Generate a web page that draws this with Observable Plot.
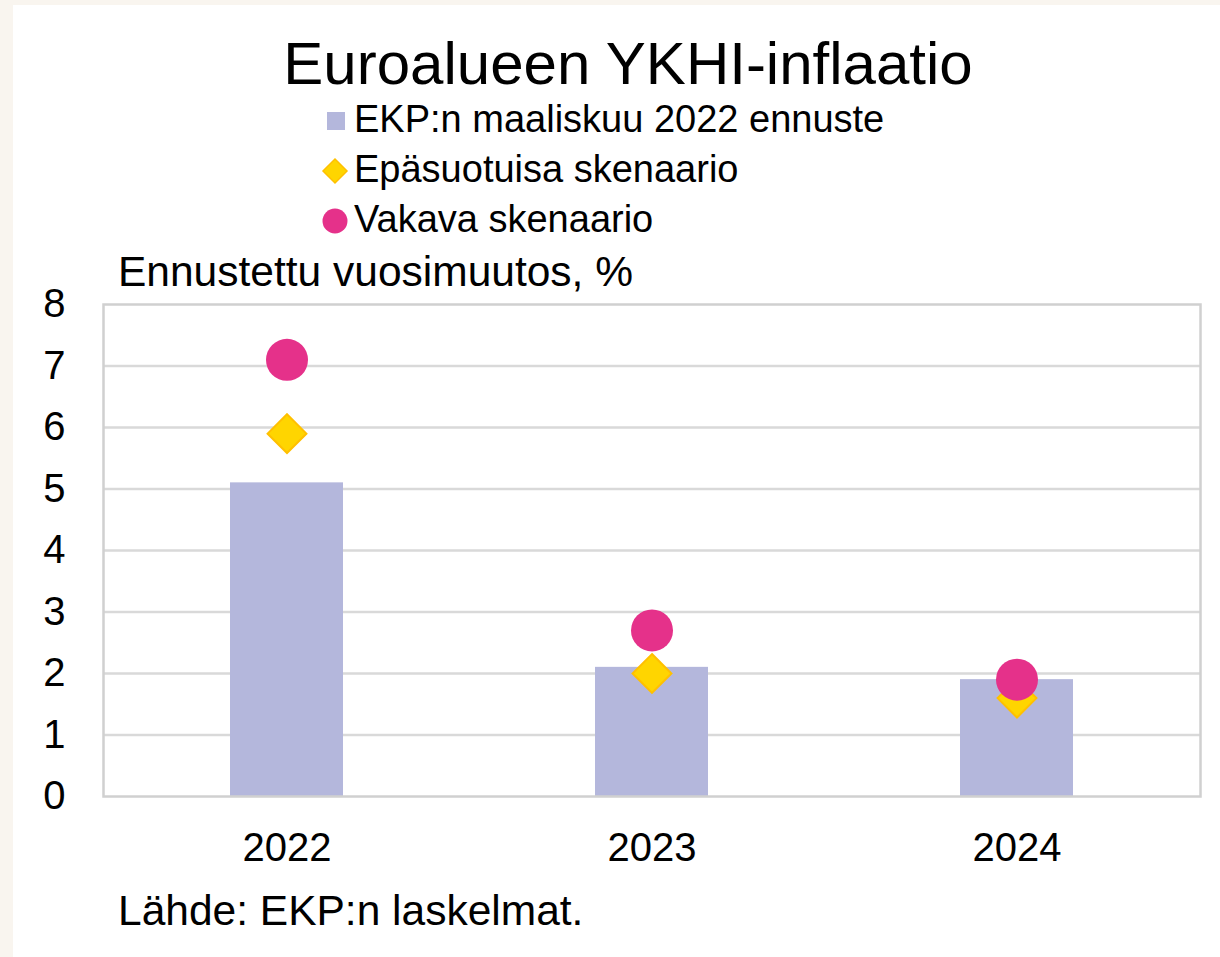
<!DOCTYPE html>
<html>
<head>
<meta charset="utf-8">
<script src="https://cdn.jsdelivr.net/npm/d3@7"></script>
<script src="https://cdn.jsdelivr.net/npm/@observablehq/plot@0.6"></script>
<style>
  html, body { margin: 0; padding: 0; background: #f9f5ef; overflow: hidden; }
  body { width: 1220px; height: 957px; position: relative; font-family: "Liberation Sans", Arial, sans-serif; color: #000; }
  #panel { position: absolute; left: 13px; top: 5px; width: 1207px; height: 952px; background: #fff; }
  .t { position: absolute; white-space: nowrap; line-height: 1; }
  #title { font-size: 60px; left: 628px; top: 34px; transform: translateX(-50%); }
  .leg { font-size: 38px; left: 354px; }
  .sw { position: absolute; }
  #ylabel { font-size: 42.5px; left: 118px; top: 251px; }
  #caption { font-size: 42.5px; left: 118px; top: 890px; }
  #chart { position: absolute; left: 13px; top: 290px; }
</style>
</head>
<body>
<div id="panel"></div>
<div class="t" id="title">Euroalueen YKHI-inflaatio</div>
<div id="legend"></div>
<div class="t" id="ylabel">Ennustettu vuosimuutos, %</div>
<div id="chart"></div>
<div class="t" id="caption">Lähde: EKP:n laskelmat.</div>
<script>
// ---- data ----
const years = ["2022", "2023", "2024"];
const baseline = [5.1, 2.1, 1.9];   // EKP:n maaliskuu 2022 ennuste
const adverse = [5.9, 2.0, 1.6];    // Epäsuotuisa skenaario
const severe = [7.1, 2.7, 1.9];     // Vakava skenaario
const yTicks = [0, 1, 2, 3, 4, 5, 6, 7, 8];
const seriesNames = ["EKP:n maaliskuu 2022 ennuste", "Epäsuotuisa skenaario", "Vakava skenaario"];

const colors = { bar: "#b4b7dc", diamond: "#ffd500", diamondStroke: "#ffc000", circle: "#e5318a" };

const rows = years.map((y, i) => ({ year: y, baseline: baseline[i], adverse: adverse[i], severe: severe[i] }));

// ---- legend ----
const legend = document.getElementById("legend");
const legTops = [100, 150, 200];
const swatches = [
  `<svg class="sw" style="left:326px;top:111px" width="20" height="20"><rect x="1" y="1" width="18" height="18" fill="${colors.bar}"/></svg>`,
  `<svg class="sw" style="left:321px;top:157px" width="28" height="28"><path d="M14,2 L26,14 L14,26 L2,14 Z" fill="${colors.diamond}" stroke="${colors.diamondStroke}" stroke-width="1.5"/></svg>`,
  `<svg class="sw" style="left:321px;top:207px" width="28" height="28"><circle cx="14" cy="14" r="12.5" fill="${colors.circle}"/></svg>`
];
seriesNames.forEach((name, i) => {
  legend.insertAdjacentHTML("beforeend", swatches[i]);
  const d = document.createElement("div");
  d.className = "t leg";
  d.style.top = legTops[i] + "px";
  d.textContent = name;
  legend.appendChild(d);
});

// ---- chart ----
const chart = Plot.plot({
  width: 1207,
  height: 590,
  marginTop: 14,
  marginBottom: 84,
  marginLeft: 90,
  marginRight: 20,
  style: { fontFamily: '"Liberation Sans", Arial, sans-serif', background: "transparent", color: "#000", overflow: "visible" },
  x: { domain: years, paddingInner: 0.69, paddingOuter: 0.345, label: null },
  y: { domain: [0, 8], label: null },
  marks: [
    Plot.ruleY(yTicks.slice(1, -1), { stroke: "#d9d9d9", strokeWidth: 2.5 }),
    Plot.barY(rows, { x: "year", y: "baseline", fill: colors.bar }),
    Plot.frame({ stroke: "#d0d0d0", strokeWidth: 2.5 }),
    Plot.dot(rows, { x: "year", y: "adverse", symbol: "diamond2", r: 17.5, fill: colors.diamond, stroke: colors.diamondStroke, strokeWidth: 2 }),
    Plot.dot(rows, { x: "year", y: "severe", symbol: "circle", r: 21, fill: colors.circle }),
    Plot.axisY(yTicks, { tickSize: 0, tickPadding: 38, fontSize: 40, tickFormat: d => String(d), label: null }),
    Plot.axisX({ tickSize: 0, tickPadding: 36, fontSize: 40, label: null })
  ]
});
document.getElementById("chart").appendChild(chart);
</script>
</body>
</html>
